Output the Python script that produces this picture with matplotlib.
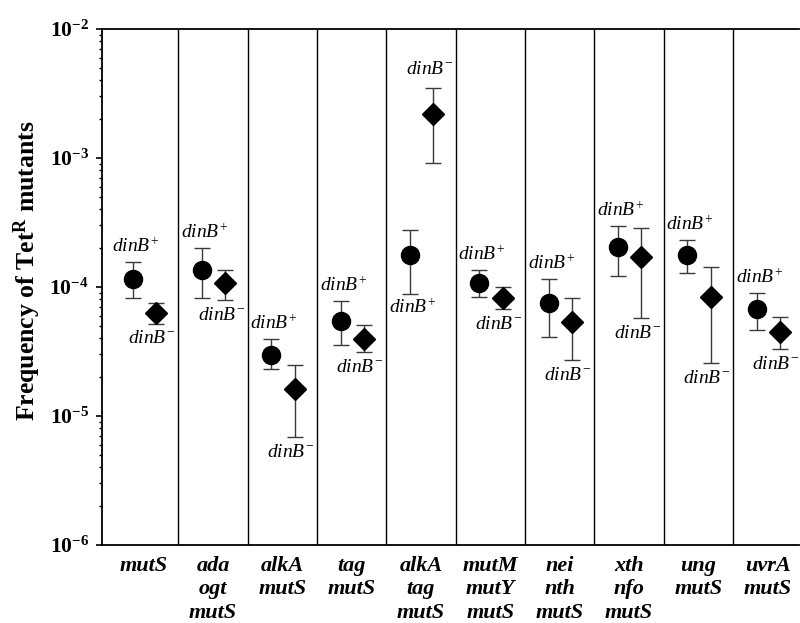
import matplotlib
matplotlib.use('Agg')
import matplotlib.pyplot as plt
from matplotlib.ticker import FixedLocator, FixedFormatter, LogLocator, NullFormatter

plt.rcParams['font.family'] = ['Liberation Serif', 'DejaVu Serif']
plt.rcParams['mathtext.fontset'] = 'custom'
plt.rcParams['mathtext.rm'] = 'Liberation Serif'
plt.rcParams['mathtext.it'] = 'Liberation Serif:italic'
plt.rcParams['mathtext.bf'] = 'Liberation Serif:bold'
plt.rcParams['mathtext.bfit'] = 'Liberation Serif:bold:italic'

strains = ['mutS', 'ada\nogt\nmutS', 'alkA\nmutS', 'tag\nmutS', 'alkA\ntag\nmutS',
           'mutM\nmutY\nmutS', 'nei\nnth\nmutS', 'xth\nnfo\nmutS', 'ung\nmutS', 'uvrA\nmutS']

dinB_plus = [1.15e-4, 1.35e-4, 2.97e-5, 5.45e-5, 1.77e-4, 1.07e-4, 7.5e-5, 2.04e-4, 1.77e-4, 6.7e-5]
dinB_plus_hi = [1.56e-4, 2.0e-4, 3.95e-5, 7.8e-5, 2.77e-4, 1.35e-4, 1.15e-4, 2.97e-4, 2.31e-4, 8.98e-5]
dinB_plus_lo = [8.2e-5, 8.2e-5, 2.31e-5, 3.55e-5, 8.8e-5, 8.4e-5, 4.1e-5, 1.22e-4, 1.29e-4, 4.65e-5]

dinB_minus = [6.3e-5, 1.07e-4, 1.62e-5, 3.95e-5, 2.19e-3, 8.2e-5, 5.36e-5, 1.71e-4, 8.4e-5, 4.48e-5]
dinB_minus_hi = [7.5e-5, 1.35e-4, 2.48e-5, 5.07e-5, 3.49e-3, 1.0e-4, 8.2e-5, 2.86e-4, 1.43e-4, 5.85e-5]
dinB_minus_lo = [5.2e-5, 7.9e-5, 6.9e-6, 3.13e-5, 9.1e-4, 6.7e-5, 2.72e-5, 5.75e-5, 2.58e-5, 3.3e-5]

# label side for each point annotation
plus_label_side = ['above', 'above', 'above', 'above', 'below', 'above', 'above', 'above', 'above', 'above']
minus_label_side = ['below', 'below', 'below', 'below', 'above', 'below', 'below', 'below', 'below', 'below']

ytick_vals = [1e-6, 1e-5, 1e-4, 1e-3, 1e-2]
ytick_labels = [r'$\mathbf{10^{-6}}$', r'$\mathbf{10^{-5}}$', r'$\mathbf{10^{-4}}$',
                r'$\mathbf{10^{-3}}$', r'$\mathbf{10^{-2}}$']

fig = plt.figure(figsize=(8.0, 6.23), dpi=100)
ax = fig.add_axes([0.1275, 0.1252, 0.871, 0.8283])
ax.set_yscale('log')
ax.set_ylim(1e-6, 1e-2)
ax.set_xlim(0.4, 10.45)

n = len(strains)
pos = list(range(1, n + 1))
xp = [p - 0.16 for p in pos]
xm = [p + 0.18 for p in pos]

def err(v, lo, hi):
    return [[a - b for a, b in zip(v, lo)], [c - a for a, c in zip(v, hi)]]

ax.errorbar(xp, dinB_plus, yerr=err(dinB_plus, dinB_plus_lo, dinB_plus_hi), fmt='o',
            color='black', markersize=13, ecolor='#3a3a3a', elinewidth=1.0, capsize=6,
            capthick=1.0, zorder=3)
ax.errorbar(xm, dinB_minus, yerr=err(dinB_minus, dinB_minus_lo, dinB_minus_hi), fmt='D',
            color='black', markersize=11, ecolor='#3a3a3a', elinewidth=1.0, capsize=6,
            capthick=1.0, zorder=3)

lab_plus = r'$\mathit{dinB}^{+}$'
lab_minus = r'$\mathit{dinB}^{-}$'
for i in range(n):
    if plus_label_side[i] == 'above':
        ax.annotate(lab_plus, xy=(xp[i], dinB_plus_hi[i]), xytext=(2, 11),
                    textcoords='offset points', ha='center', va='center', fontsize=14)
    else:
        ax.annotate(lab_plus, xy=(xp[i], dinB_plus_lo[i]), xytext=(2, -10),
                    textcoords='offset points', ha='center', va='center', fontsize=14)
    if minus_label_side[i] == 'above':
        ax.annotate(lab_minus, xy=(xm[i], dinB_minus_hi[i]), xytext=(-3, 13),
                    textcoords='offset points', ha='center', va='center', fontsize=14)
    else:
        ax.annotate(lab_minus, xy=(xm[i], dinB_minus_lo[i]), xytext=(-3, -11),
                    textcoords='offset points', ha='center', va='center', fontsize=14)

for b in range(1, n):
    ax.axvline(b + 0.5, color='black', lw=1.0, zorder=1)

ax.yaxis.set_major_locator(FixedLocator(ytick_vals))
ax.yaxis.set_major_formatter(FixedFormatter(ytick_labels))
ax.yaxis.set_minor_locator(LogLocator(base=10, subs=range(2, 10), numticks=20))
ax.yaxis.set_minor_formatter(NullFormatter())
ax.tick_params(axis='y', which='major', direction='out', length=4.5, width=1.2, labelsize=15.5, pad=5)
ax.tick_params(axis='y', which='minor', direction='out', length=2.5, width=1.0)

ax.set_xticks(pos)
ax.set_xticklabels(strains, fontsize=16, fontstyle='italic', fontweight='bold', linespacing=1.22)
ax.tick_params(axis='x', length=0, pad=8)

ax.spines['right'].set_visible(False)
for s in ['left', 'bottom', 'top']:
    ax.spines[s].set_linewidth(1.3)

fig.text(27 / 800, 1 - 271 / 623, r'Frequency of Tet$^{\mathbf{R}}$ mutants', rotation=90,
         ha='center', va='center', fontsize=18.5, fontweight='bold')

fig.savefig('out.png', dpi=100)
